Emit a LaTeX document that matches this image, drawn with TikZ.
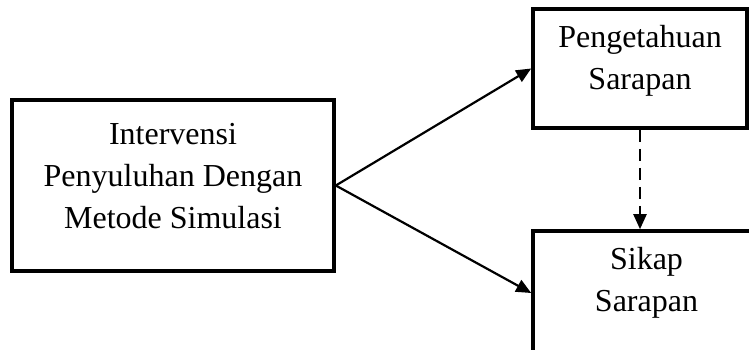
\documentclass[tikz,border=0pt]{standalone}
\usepackage{fontspec}
\setmainfont{Liberation Serif}
\usetikzlibrary{arrows.meta}

\begin{document}
\begin{tikzpicture}[x=1pt,y=-1pt,
    kotak/.style={draw, line width=3.6pt, inner sep=0pt, align=center,
      font=\fontsize{32}{42}\selectfont},
    panah/.style={line width=2.2pt, -{Triangle[length=15pt,width=13pt]}}]
    \useasboundingbox (0,0) rectangle (749,349);
    \node[kotak, minimum width=322pt, minimum height=171pt, text depth=20pt] (intv) at (173,185.5)
      {Intervensi\\Penyuluhan Dengan\\Metode Simulasi};
    \node[kotak, minimum width=214pt, minimum height=119pt, text depth=23pt] (peng) at (640,68.5)
      {Pengetahuan\\Sarapan};
    \node[kotak, minimum width=227pt, minimum height=124pt, text depth=27pt] (sikap) at (646.5,293)
      {Sikap\\Sarapan};
    \draw[panah] (intv.east) -- (peng.west);
    \draw[panah] (intv.east) -- (sikap.west);
    \draw[panah, dash pattern=on 12pt off 7pt] (peng.south) -- (peng.south |- sikap.north);
\end{tikzpicture}
\end{document}
